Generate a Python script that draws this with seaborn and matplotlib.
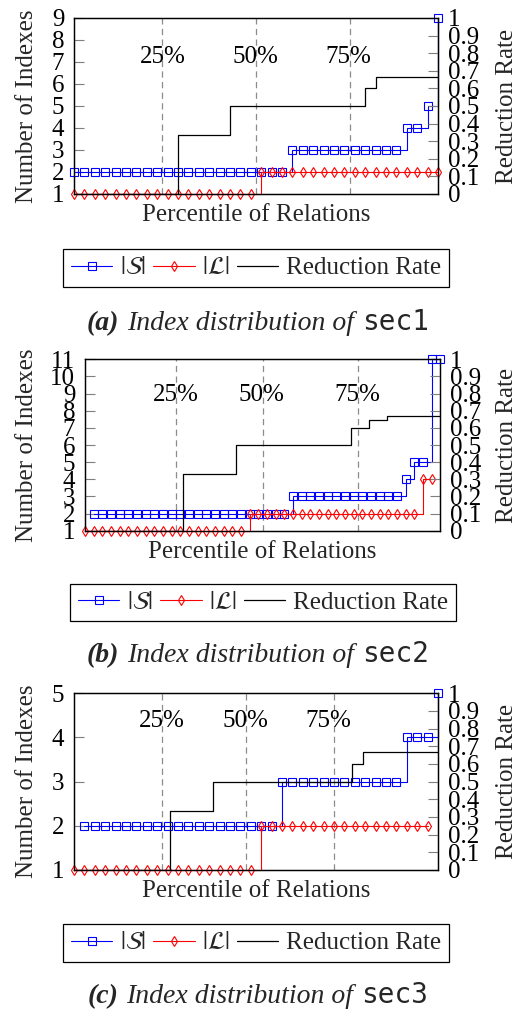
import matplotlib
matplotlib.use("Agg")
import matplotlib.pyplot as plt
import matplotlib.transforms as mtransforms
import seaborn as sns

W, H, DPI = 518, 1014, 100

# ---------------- sec1 ----------------
sec1_s_start = 0
sec1_s = [2, 2, 2, 2, 2, 2, 2, 2, 2, 2, 2, 2, 2, 2, 2, 2, 2, 2, 2, 2, 2,
          3, 3, 3, 3, 3, 3, 3, 3, 3, 3, 3,
          4, 4, 5, 9]
sec1_l_start = 0
sec1_l = [1, 1, 1, 1, 1, 1, 1, 1, 1, 1, 1, 1, 1, 1, 1, 1, 1, 1,
          2, 2, 2, 2, 2, 2, 2, 2, 2, 2, 2, 2, 2, 2, 2, 2, 2, 2]
sec1_rate_x = [0, 10, 15, 28, 29, 35]
sec1_rate = [0, 0.333, 0.5, 0.6, 0.667, 0.667]
sec1_pct_x = [8.5, 17.5, 26.5]
sec1_pct_label_x = [8.5, 17.45, 26.4]

# ---------------- sec2 ----------------
sec2_s_start = 1
sec2_s = [2, 2, 2, 2, 2, 2, 2, 2, 2, 2, 2, 2, 2, 2, 2, 2, 2, 2, 2, 2, 2, 2, 2,
          3, 3, 3, 3, 3, 3, 3, 3, 3, 3, 3, 3, 3,
          4, 5, 5, 11, 11]
sec2_l_start = 0
sec2_l = [1, 1, 1, 1, 1, 1, 1, 1, 1, 1, 1, 1, 1, 1, 1, 1, 1, 1, 1,
          2, 2, 2, 2, 2, 2, 2, 2, 2, 2, 2, 2, 2, 2, 2, 2, 2, 2, 2, 2,
          4, 4]
sec2_rate_x = [0, 11.27, 17.42, 30.68, 32.8, 34.87, 41]
sec2_rate = [0, 0.333, 0.5, 0.6, 0.643, 0.667, 0.667]
sec2_pct_x = [10.46, 20.5, 31.5]
sec2_pct_label_x = [10.46, 20.4, 31.4]

# ---------------- sec3 ----------------
sec3_s_start = 1
sec3_s = [2, 2, 2, 2, 2, 2, 2, 2, 2, 2, 2, 2, 2, 2, 2, 2, 2, 2, 2,
          3, 3, 3, 3, 3, 3, 3, 3, 3, 3, 3, 3,
          4, 4, 4, 5]
sec3_l_start = 0
sec3_l = [1, 1, 1, 1, 1, 1, 1, 1, 1, 1, 1, 1, 1, 1, 1, 1, 1, 1,
          2, 2, 2, 2, 2, 2, 2, 2, 2, 2, 2, 2, 2, 2, 2, 2, 2]
sec3_rate_x = [0, 9.26, 13.4, 26.76, 27.8, 35]
sec3_rate = [0, 0.333, 0.5, 0.6, 0.667, 0.667]
sec3_pct_x = [8.49, 16.57, 25.03]
sec3_pct_label_x = [8.49, 16.5, 24.5]

pct_labels = ["25%", "50%", "75%"]
rate_ticks = [0, 0.1, 0.2, 0.3, 0.4, 0.5, 0.6, 0.7, 0.8, 0.9, 1]
rate_tick_labels = ["0", "0.1", "0.2", "0.3", "0.4", "0.5", "0.6", "0.7", "0.8", "0.9", "1"]
legend_labels = [r"$|\mathcal{S}|$", r"$|\mathcal{L}|$", "Reduction Rate"]

sns.set_theme(style="white")
plt.rcParams["font.family"] = ["Liberation Serif", "DejaVu Serif"]
plt.rcParams["mathtext.fontset"] = "stix"
plt.rcParams["axes.unicode_minus"] = False

FS = 18
CAP_FS = 20
TICK_GRAY = "#7f7f7f"
DASH_GRAY = "#8c8c8c"

fig = plt.figure(figsize=(W / DPI, H / DPI), dpi=DPI)
fig.patch.set_facecolor("white")


def fx(px):
    return px / W


def fy(py):
    return 1 - py / H


def draw_panel(s_start, s_vals, l_start, l_vals, rate_x, rate_vals, ymax,
               pct_x, pct_label_x, pct_label_y, box, legend_center,
               tag, name, caption_y):
    left, top, right, bottom = box
    ax = fig.add_axes([fx(left), fy(bottom), (right - left) / W, (bottom - top) / H])
    ax2 = ax.twinx()
    n = max(s_start + len(s_vals), l_start + len(l_vals)) - 1

    # percentile guides
    for xp in pct_x:
        ax.axvline(xp, color=DASH_GRAY, lw=0.9, ls=(0, (5, 3.5)), zorder=1)
    trans = mtransforms.blended_transform_factory(ax.transData, ax.transAxes)
    for xp, lab in zip(pct_label_x, pct_labels):
        ax.text(xp, pct_label_y, lab, transform=trans, ha="center",
                va="baseline", fontsize=FS, color="black", zorder=2)

    s_x = list(range(s_start, s_start + len(s_vals)))
    l_x = list(range(l_start, l_start + len(l_vals)))
    sns.lineplot(x=s_x, y=s_vals, ax=ax, color="#0000ff", lw=0.8,
                 drawstyle="steps-post", marker="s", ms=5.4,
                 markerfacecolor="none", mec="#0000ff", mew=0.8,
                 clip_on=False, zorder=3, legend=False)
    sns.lineplot(x=l_x, y=l_vals, ax=ax, color="#ff0000", lw=0.8,
                 drawstyle="steps-post", marker="d", ms=5.4,
                 markerfacecolor="none", mec="#ff0000", mew=0.8,
                 clip_on=False, zorder=4, legend=False)
    sns.lineplot(x=rate_x, y=rate_vals, ax=ax2, color="black", lw=0.9,
                 drawstyle="steps-post", legend=False, zorder=5)

    ax.set_xlim(0, n)
    ax.set_ylim(1, ymax)
    ax2.set_ylim(0, 1)
    ax.set_xticks([])
    ax.set_yticks(list(range(1, ymax + 1)))
    ax.set_yticklabels([str(v) for v in range(1, ymax + 1)])
    ax2.set_yticks(rate_ticks)
    ax2.set_yticklabels(rate_tick_labels)
    for a in (ax, ax2):
        a.set_xlabel("")
        a.set_ylabel("")
        for sp in a.spines.values():
            sp.set_color("black")
            sp.set_linewidth(0.9)
    ax.tick_params(axis="y", which="both", direction="in", length=7, width=0.8,
                   color=TICK_GRAY, pad=7, labelsize=FS, labelcolor="black",
                   left=True, right=False)
    ax2.tick_params(axis="y", which="both", direction="in", length=7, width=0.8,
                    color=TICK_GRAY, pad=7, labelsize=FS, labelcolor="black",
                    left=False, right=True)
    ax.tick_params(axis="x", bottom=False, top=False, labelbottom=False)
    ax2.tick_params(axis="x", bottom=False, top=False, labelbottom=False)

    cy = (top + bottom) / 2
    fig.text(fx(33), fy(cy), "Number of Indexes", rotation=90,
             rotation_mode="anchor", ha="center", va="baseline", fontsize=FS)
    fig.text(fx(513), fy(cy), "Reduction Rate", rotation=90,
             rotation_mode="anchor", ha="center", va="baseline", fontsize=FS)
    fig.text(fx((left + right) / 2), fy(bottom + 27), "Percentile of Relations",
             ha="center", va="baseline", fontsize=FS)

    handles = ax.get_lines()[-2:] + ax2.get_lines()[-1:]
    leg = fig.legend(handles, legend_labels, loc="center",
                     bbox_to_anchor=(fx(legend_center[0]), fy(legend_center[1])),
                     ncol=3, frameon=True, fancybox=False, edgecolor="black",
                     framealpha=1, fontsize=FS, handlelength=1.65,
                     handletextpad=0.3, columnspacing=0.3, borderpad=0.3,
                     borderaxespad=0, numpoints=1)
    leg.get_frame().set_linewidth(0.9)

    # caption: bold-italic tag, italic words, monospace dataset name
    renderer = fig.canvas.get_renderer()
    pieces = [
        fig.text(0, fy(caption_y), tag, fontsize=CAP_FS, fontweight="bold",
                 fontstyle="italic", va="baseline", ha="left"),
        fig.text(0, fy(caption_y), "Index distribution of", fontsize=CAP_FS,
                 fontstyle="italic", va="baseline", ha="left"),
        fig.text(0, fy(caption_y), name, fontsize=CAP_FS,
                 family=["DejaVu Sans Mono"], va="baseline", ha="left"),
    ]
    gaps = [8, 8, 0]
    widths = [t.get_window_extent(renderer).width for t in pieces]
    total = sum(widths) + sum(gaps[:-1])
    x = 258 - total / 2
    for t, w, g in zip(pieces, widths, gaps):
        t.set_x(fx(x))
        x += w + g


draw_panel(sec1_s_start, sec1_s, sec1_l_start, sec1_l, sec1_rate_x, sec1_rate, 9,
           sec1_pct_x, sec1_pct_label_x, 0.746, (74, 18, 438, 194), (256, 268),
           "(a)", "sec1", 330)
draw_panel(sec2_s_start, sec2_s, sec2_l_start, sec2_l, sec2_rate_x, sec2_rate, 11,
           sec2_pct_x, sec2_pct_label_x, 0.757, (85, 359.3, 440.3, 530.7), (263, 602.7),
           "(b)", "sec2", 662)
draw_panel(sec3_s_start, sec3_s, sec3_l_start, sec3_l, sec3_rate_x, sec3_rate, 5,
           sec3_pct_x, sec3_pct_label_x, 0.811, (74, 693.3, 438, 870), (256, 943),
           "(c)", "sec3", 1003)

fig.savefig("out.png", dpi=DPI, facecolor="white")
